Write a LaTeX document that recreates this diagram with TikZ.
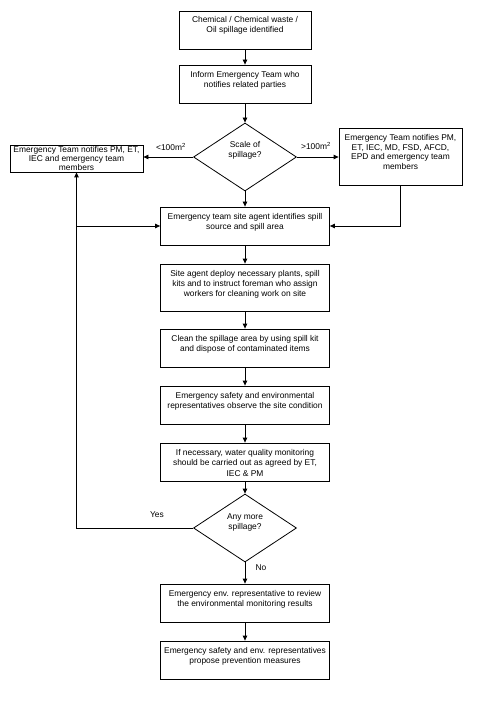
\documentclass[tikz,border=0pt]{standalone}
\usepackage{fontspec}
\setmainfont{Liberation Sans}
\usetikzlibrary{shapes.geometric,arrows.meta}
\newcommand{\bxt}[4]{\parbox[c][#1][t]{#2}{\centering\rule{0pt}{#3}#4}}
\tikzset{
  box/.style={draw, inner sep=0pt, line width=0.8pt, font=\fontsize{8.4}{10}\selectfont},
  dec/.style={draw, diamond, aspect=1.5, inner sep=0pt, minimum width=103pt, minimum height=68pt, line width=0.8pt, font=\fontsize{8.4}{10}\selectfont},
  arr/.style={-{Triangle[length=5pt,width=4.5pt]}, line width=0.8pt},
  lbl/.style={inner sep=0pt, font=\fontsize{8.4}{10}\selectfont}
}
\begin{document}
\begin{tikzpicture}[x=1pt,y=-1pt]
\useasboundingbox (0,0) rectangle (478,703);
\node[box] (b1) at (245,30) {\bxt{38pt}{132pt}{12pt}{Chemical / Chemical waste /\\Oil spillage identified}};
\node[box] (b2) at (245,84) {\bxt{38pt}{132pt}{12.5pt}{Inform Emergency Team who\\notifies related parties}};
\node[dec] (d1) at (245,157) {\begin{tabular}{@{}c@{}}Scale of\\spillage?\end{tabular}\rule[-21pt]{0pt}{0pt}};
\node[box] (lbox) at (76.5,158.5) {\bxt{27pt}{133pt}{8pt}{\fontsize{8.4}{9}\selectfont Emergency Team notifies PM, ET,\\IEC and emergency team\\members\hspace{54pt}}};
\node[box] (rbox) at (400.5,156.5) {\bxt{57pt}{123pt}{12.5pt}{\fontsize{8.4}{9.7}\selectfont Emergency Team notifies PM,\\ET, IEC, MD, FSD, AFCD,\\EPD and emergency team\\members}};
\node[box] (b3) at (245,226) {\bxt{38pt}{169pt}{12.5pt}{Emergency team site agent identifies spill\\source and spill area}};
\node[box] (b4) at (245,287.5) {\bxt{47pt}{169pt}{12pt}{Site agent deploy necessary plants, spill\\kits and to instruct foreman who assign\\workers for cleaning work on site}};
\node[box] (b5) at (245,348) {\bxt{38pt}{169pt}{12.5pt}{Clean the spillage area by using spill kit\\and dispose of contaminated items}};
\node[box] (b6) at (245,405) {\bxt{38pt}{169pt}{12.5pt}{Emergency safety and environmental\\representatives observe the site condition}};
\node[box] (b7) at (245,462) {\bxt{38pt}{169pt}{12pt}{If necessary, water quality monitoring\\should be carried out as agreed by ET,\\[1.5pt]IEC \& PM}};
\node[dec] (d2) at (245,528) {\begin{tabular}{@{}c@{}}Any more\\spillage?\end{tabular}\rule[-20pt]{0pt}{0pt}};
\node[box] (b8) at (245,603) {\bxt{38pt}{169pt}{12pt}{Emergency env. representative to review\\the environmental monitoring results}};
\node[box] (b9) at (245,660) {\bxt{38pt}{169pt}{12pt}{Emergency safety and env. representatives\\propose prevention measures}};
\node[lbl] (lt) at (171,147) {<100m\textsuperscript{2}};
\node[lbl] (gt) at (316,146) {>100m\textsuperscript{2}};
\node[lbl] (yes) at (157,515) {Yes};
\node[lbl] (no) at (261,568) {No};
\draw[arr] (b1.south) -- (b2.north);
\draw[arr] (b2.south) -- (d1.north);
\draw[arr] (d1.west) -- (d1.west -| lbox.east);
\draw[arr] (d1.east) -- (d1.east -| rbox.west);
\draw[arr] (d1.south) -- (b3.north);
\draw[arr] (rbox.south) |- (b3.east);
\draw[arr] (b3.south) -- (b4.north);
\draw[arr] (b4.south) -- (b5.north);
\draw[arr] (b5.south) -- (b6.north);
\draw[arr] (b6.south) -- (b7.north);
\draw[arr] (b7.south) -- (d2.north);
\draw[arr] (d2.west) -| (lbox.south);
\draw[arr] (lbox.south |- b3.west) -- (b3.west);
\draw[arr] (d2.south) -- (b8.north);
\draw[arr] (b8.south) -- (b9.north);
\end{tikzpicture}
\end{document}
